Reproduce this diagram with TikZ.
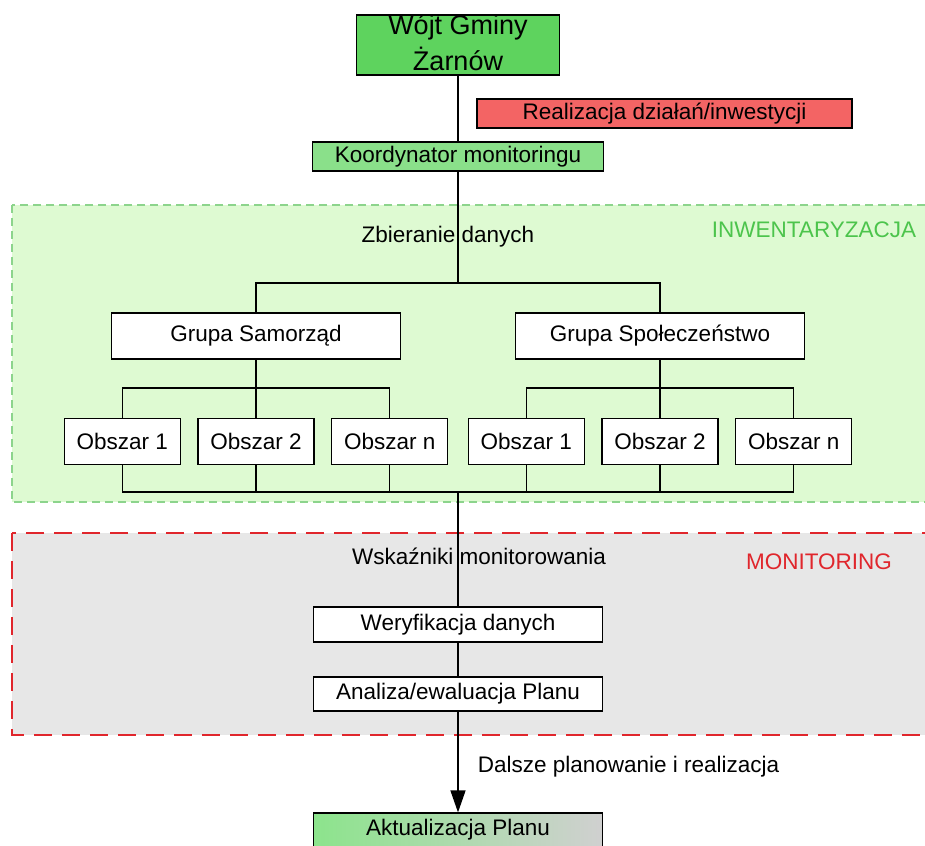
\documentclass[tikz,border=0pt]{standalone}
\usepackage{fontspec}
\setmainfont{Liberation Sans}
\usetikzlibrary{positioning,arrows.meta}

\definecolor{wojtgreen}{RGB}{94,211,94}
\definecolor{koordgreen}{RGB}{138,224,138}
\definecolor{realred}{RGB}{243,100,100}
\definecolor{invfill}{RGB}{222,250,210}
\definecolor{invdash}{RGB}{140,212,140}
\definecolor{invtext}{RGB}{76,196,76}
\definecolor{monfill}{RGB}{231,231,231}
\definecolor{mondash}{RGB}{224,38,44}
\definecolor{aktgreen}{RGB}{140,228,140}
\definecolor{aktgray}{RGB}{208,208,208}

\begin{document}
\begin{tikzpicture}[x=1pt,y=-1pt
		,every node/.append style={font=\fontsize{22.5}{27}\selectfont}
		,box/.style={draw, line width=1.2pt, inner sep=0pt, minimum height=34pt}
		,obsz/.style={box, fill=white, minimum width=116pt, minimum height=46pt}
		,grupa/.style={box, fill=white, minimum width=289pt, minimum height=46pt}
		,etap/.style={box, fill=white, minimum width=289pt}
		,linia/.style={line width=1.3pt}
		,strefa/.style={line width=1.3pt}
	]
	\useasboundingbox (0,0) rectangle (925,845);

	% strefy
	\draw [strefa, fill=invfill, draw=invdash, dash pattern=on 8pt off 5pt] (12,205) rectangle (932,502);
	\draw [strefa, fill=monfill, draw=mondash, line width=2pt, dash pattern=on 18pt off 10pt] (12,533) rectangle (932,735);
	\node [text=invtext] (inw) at (814,230) {INWENTARYZACJA};
	\node [text=mondash] (mon) at (819,562) {MONITORING};

	% gora
	\node [box, fill=wojtgreen, minimum width=203pt, minimum height=60pt, inner ysep=-5pt, align=center,
		font=\fontsize{27}{36}\selectfont] (W) at (458,45) {Wójt Gminy\\Żarnów\rule[-4pt]{0pt}{4pt}};
	\node [box, fill=realred, minimum width=375pt, minimum height=29pt] (R) at (664.5,113.5) {Realizacja działań/inwestycji};
	\node [box, fill=koordgreen, minimum width=291pt, minimum height=29pt] (K) at (458,156.5) {Koordynator monitoringu};
	\node (zd) at (448,237) {Zbieranie danych};

	% grupy i obszary
	\node [grupa] (GS) at (256,336) {Grupa Samorząd};
	\node [grupa] (GP) at (660,336) {Grupa Społeczeństwo};
	\node [obsz, below=58pt of GS] (O2) {Obszar 2};
	\node [obsz, left=16.5pt of O2] (O1) {Obszar 1};
	\node [obsz, right=16.5pt of O2] (O3) {Obszar n};
	\node [obsz, below=58pt of GP] (O5) {Obszar 2};
	\node [obsz, left=16.5pt of O5] (O4) {Obszar 1};
	\node [obsz, right=16.5pt of O5] (O6) {Obszar n};

	% monitoring
	\node (wm) at (479,556) {Wskaźniki monitorowania};
	\node [etap, minimum height=35pt] (WD) at (458,624.5) {Weryfikacja danych};
	\node [etap] (AE) at (458,694) {Analiza/ewaluacja Planu};
	\node (dp) at (628.5,767) {Dalsze planowanie i realizacja};
	\node [box, left color=aktgreen, right color=aktgray, minimum width=289pt] (AP) at (458,830) {Aktualizacja Planu};

	\coordinate (rozg) at (458,283);
	\coordinate (sam) at (256,388);
	\coordinate (spo) at (660,388);
	\coordinate (zbior) at (458,492);

	\draw [linia] (W) -- (K);
	\draw [linia] (K) -- (rozg);
	\draw [linia] (GS.north) |- (rozg) -| (GP.north);
	\draw [linia] (GS) -- (sam);
	\draw [linia] (GP) -- (spo);
	\draw [linia] (O1.north) |- (sam) -| (O3.north);
	\draw [linia] (O4.north) |- (spo) -| (O6.north);
	\draw [linia] (sam) -- (O2);
	\draw [linia] (spo) -- (O5);
	\draw [linia] (O1.south) |- (zbior) -| (O6.south);
	\foreach \o in {O2,O3,O4,O5}
		\draw [linia] (\o.south) -- (\o.south |- zbior);
	\draw [linia] (zbior) -- (WD);
	\draw [linia] (WD) -- (AE);
	\draw [linia, -{Triangle[width=15pt,length=22pt]}] (AE) -- (AP);
\end{tikzpicture}
\end{document}
